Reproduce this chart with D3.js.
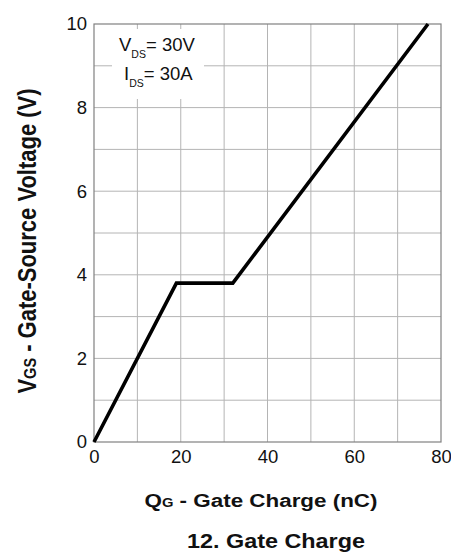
<!DOCTYPE html>
<html><head><meta charset="utf-8">
<script src="https://cdn.jsdelivr.net/npm/d3@7"></script>
<style>body{margin:0;background:#fff}text{font-family:"Liberation Sans",Arial,sans-serif}</style>
</head><body>
<svg id="c" width="451" height="556"></svg>
<script>
const qg = [0, 19, 32, 77];
const vgs = [0, 3.8, 3.8, 10];
const xTicks = [0, 20, 40, 60, 80];
const yTicks = [0, 2, 4, 6, 8, 10];
const xGrid = [10, 20, 30, 40, 50, 60, 70];
const yGrid = [1, 2, 3, 4, 5, 6, 7, 8, 9];

const svg = d3.select("#c");
const m = {l: 94, r: 441, t: 24, b: 442};
const x = d3.scaleLinear().domain([0, 80]).range([m.l, m.r]);
const y = d3.scaleLinear().domain([0, 10]).range([m.b, m.t]);

svg.append("g").selectAll("line").data(xGrid).join("line")
  .attr("x1", d => x(d)).attr("x2", d => x(d)).attr("y1", m.t).attr("y2", m.b)
  .attr("stroke", "#b4b4b4").attr("stroke-width", 1);
svg.append("g").selectAll("line").data(yGrid).join("line")
  .attr("y1", d => y(d)).attr("y2", d => y(d)).attr("x1", m.l).attr("x2", m.r)
  .attr("stroke", "#b4b4b4").attr("stroke-width", 1);

svg.append("rect").attr("x", m.l).attr("y", m.t).attr("width", m.r - m.l).attr("height", m.b - m.t)
  .attr("fill", "none").attr("stroke", "#808080").attr("stroke-width", 1.2);

const xa = svg.append("g").attr("transform", `translate(0,${m.b})`)
  .call(d3.axisBottom(x).tickValues(xTicks).tickSize(0).tickPadding(8));
xa.select(".domain").remove();
xa.selectAll("text").attr("font-size", 18.5).attr("fill", "#111").attr("font-family", "Liberation Sans, Arial, sans-serif");

const ya = svg.append("g").attr("transform", `translate(${m.l},0)`)
  .call(d3.axisLeft(y).tickValues(yTicks).tickSize(0).tickPadding(7));
ya.select(".domain").remove();
ya.selectAll("text").attr("font-size", 18.5).attr("fill", "#111").attr("font-family", "Liberation Sans, Arial, sans-serif");

// white background behind annotation
svg.append("rect").attr("x", 112).attr("y", 29).attr("width", 92).attr("height", 70).attr("fill", "#fff");

const pts = qg.map((d, i) => [d, vgs[i]]);
svg.append("path").datum(pts)
  .attr("d", d3.line().x(d => x(d[0])).y(d => y(d[1])))
  .attr("fill", "none").attr("stroke", "#000").attr("stroke-width", 3.6).attr("stroke-linejoin", "miter");

// annotation
const a1 = svg.append("text").attr("x", 119).attr("y", 51).attr("font-size", 18.5).attr("fill", "#111");
a1.append("tspan").text("V");
a1.append("tspan").attr("font-size", 10.5).attr("dy", 7).text("DS");
a1.append("tspan").attr("dy", -7).text("= 30V");
const a2 = svg.append("text").attr("x", 124).attr("y", 80).attr("font-size", 18.5).attr("fill", "#111");
a2.append("tspan").text("I");
a2.append("tspan").attr("font-size", 10.5).attr("dy", 7).text("DS");
a2.append("tspan").attr("dy", -7).text("= 30A");

// axis titles
const xt = svg.append("text").attr("transform", "translate(261,507) scale(1.18,1)").attr("text-anchor", "middle")
  .attr("font-size", 19).attr("font-weight", "bold").attr("fill", "#111");
xt.append("tspan").text("Q");
xt.append("tspan").attr("font-size", 12.5).text("G");
xt.append("tspan").text(" - Gate Charge (nC)");

const yt = svg.append("text").attr("transform", "translate(36,241) rotate(-90) scale(1,1.15)").attr("text-anchor", "middle")
  .attr("font-size", 22).attr("font-weight", "bold").attr("fill", "#111");
yt.append("tspan").text("V");
yt.append("tspan").attr("font-size", 14.5).text("GS");
yt.append("tspan").text(" - Gate-Source Voltage (V)");

svg.append("text").attr("transform", "translate(276,548) scale(1.2,1)").attr("text-anchor", "middle")
  .attr("font-size", 19.5).attr("font-weight", "bold").attr("fill", "#111").text("12. Gate Charge");
</script>
</body></html>
